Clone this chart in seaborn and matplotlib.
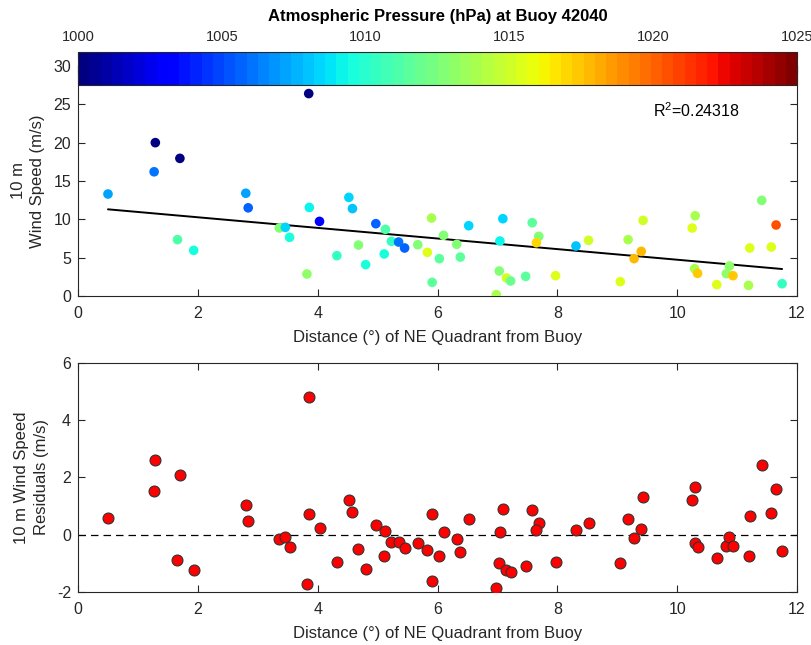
import numpy as np
import pandas as pd
import matplotlib
matplotlib.use("Agg")
import matplotlib.pyplot as plt
import seaborn as sns
from matplotlib.colors import Normalize
import matplotlib.cm as cm

# Distance (deg) of NE quadrant from buoy 42040
distance = [0.50, 1.29, 1.27, 1.70, 1.66, 1.93, 2.80, 2.84, 3.36, 3.46,
            3.53, 3.82, 3.85, 3.86, 4.03, 4.32, 4.52, 4.58, 4.68, 4.80,
            4.97, 5.13, 5.11, 5.23, 5.35, 5.45, 5.67, 5.83, 5.90, 5.91,
            6.03, 6.10, 6.32, 6.38, 6.52, 6.98, 7.03, 7.04, 7.09, 7.15,
            7.22, 7.47, 7.58, 7.69, 7.65, 7.97, 8.31, 8.52, 9.05, 9.18,
            9.28, 9.40, 9.43, 10.25, 10.30, 10.29, 10.34, 10.66, 10.82, 10.87,
            10.93, 11.19, 11.21, 11.41, 11.57, 11.65, 11.75]

# 10 m wind speed (m/s)
wind_speed = [13.3, 20.0, 16.2, 17.95, 7.35, 5.95, 13.4, 11.5, 8.87, 8.95,
              7.65, 2.87, 26.4, 11.55, 9.73, 5.26, 12.86, 11.4, 6.65, 4.09,
              9.43, 8.69, 5.48, 7.13, 7.04, 6.26, 6.69, 5.69, 10.17, 1.78,
              4.87, 7.91, 6.74, 5.08, 9.17, 0.17, 3.26, 7.17, 10.08, 2.35,
              1.96, 2.56, 9.56, 7.78, 6.95, 2.65, 6.52, 7.26, 1.87, 7.35,
              4.87, 5.82, 9.86, 8.87, 10.47, 3.56, 2.95, 1.48, 2.91, 3.91,
              2.65, 1.39, 6.26, 12.47, 6.39, 9.26, 1.6]

# Atmospheric pressure (hPa) at the buoy
pressure = [1007.2, 1000.3, 1005.9, 1000.3, 1011.0, 1009.5, 1007.2, 1005.5, 1012.5, 1008.5,
            1009.5, 1013.0, 1000.3, 1009.0, 1003.1, 1010.5, 1008.5, 1008.0, 1012.5, 1009.5,
            1005.5, 1011.0, 1009.5, 1010.5, 1006.0, 1005.5, 1012.5, 1015.5, 1014.0, 1011.5,
            1011.5, 1012.5, 1012.5, 1011.5, 1008.5, 1013.8, 1012.5, 1009.0, 1008.5, 1015.0,
            1012.0, 1011.5, 1011.5, 1012.5, 1017.0, 1015.5, 1008.0, 1015.0, 1015.5, 1013.8,
            1017.8, 1017.8, 1015.0, 1015.5, 1013.8, 1013.8, 1017.2, 1015.5, 1013.0, 1013.0,
            1017.2, 1013.8, 1015.5, 1012.5, 1015.5, 1020.5, 1010.5]

# Residuals of the 10 m wind speed fit (m/s)
residuals = [0.59, 2.61, 1.52, 2.10, -0.89, -1.23, 1.05, 0.49, -0.15, -0.09,
             -0.44, -1.72, 4.81, 0.71, 0.24, -0.95, 1.20, 0.80, -0.50, -1.20,
             0.35, 0.14, -0.75, -0.25, -0.25, -0.46, -0.30, -0.54, 0.71, -1.62,
             -0.74, 0.11, -0.16, -0.61, 0.55, -1.86, -0.98, 0.10, 0.91, -1.22,
             -1.31, -1.10, 0.88, 0.40, 0.15, -0.96, 0.15, 0.41, -1.00, 0.56,
             -0.11, 0.19, 1.32, 1.20, 1.66, -0.28, -0.44, -0.81, -0.38, -0.09,
             -0.40, -0.73, 0.67, 2.43, 0.76, 1.60, -0.57]

# Linear fit of wind speed on distance
fit_intercept = 11.65
fit_slope = -0.692
r_squared_label = "R$^2$=0.24318"
p_min, p_max = 1000, 1025

df = pd.DataFrame({"distance": distance, "wind": wind_speed,
                   "pressure": pressure, "resid": residuals})

fit_x = np.array([min(distance), max(distance)])
fit_df = pd.DataFrame({"distance": fit_x,
                       "wind": fit_intercept + fit_slope * fit_x})

sns.set_theme(style="white")
plt.rcParams["font.family"] = ["Liberation Sans", "DejaVu Sans"]
plt.rcParams["mathtext.fontset"] = "custom"
plt.rcParams["mathtext.rm"] = "Liberation Sans"
plt.rcParams["mathtext.it"] = "Liberation Sans:italic"
plt.rcParams["axes.unicode_minus"] = False

axis_gray = "#262626"
text_gray = "#262626"

cmap = plt.get_cmap("jet", 64)
norm = Normalize(vmin=p_min, vmax=p_max)

fig = plt.figure(figsize=(8.12, 6.45), dpi=100)
ax1 = fig.add_axes([0.0961, 0.5411, 0.8855, 0.3566])
ax2 = fig.add_axes([0.0961, 0.0822, 0.8855, 0.3550])
cax = fig.add_axes([0.0961, 0.8682, 0.8855, 0.0512])
cax.set_zorder(5)


def style_axes(ax):
    for sp in ax.spines.values():
        sp.set_visible(True)
        sp.set_color(axis_gray)
        sp.set_linewidth(0.8)
    ax.tick_params(direction="in", length=5, width=0.8, colors=axis_gray,
                   labelcolor=text_gray, labelsize=11.5,
                   top=True, right=True, bottom=True, left=True)
    ax.tick_params(axis="x", pad=7)
    ax.tick_params(axis="y", pad=5)


# Top panel: wind speed against distance, coloured by pressure
sns.scatterplot(data=df, x="distance", y="wind", hue="pressure",
                palette=cmap, hue_norm=norm, s=48, linewidth=0,
                legend=False, ax=ax1, zorder=3)
sns.lineplot(data=fit_df, x="distance", y="wind", color="black",
             linewidth=1.4, ax=ax1, zorder=2)
ax1.set_xlim(0, 12)
ax1.set_ylim(0, 30)
ax1.set_xticks(range(0, 13, 2))
ax1.set_yticks(range(0, 31, 5))
ax1.set_xlabel("Distance (\u00b0) of NE Quadrant from Buoy", fontsize=12,
               color=text_gray, labelpad=6.5)
ax1.set_ylabel("10 m\nWind Speed (m/s)", fontsize=12, color=text_gray,
               labelpad=6, linespacing=1.35)
ax1.text(9.6, 24.2, r_squared_label, fontsize=11.5, color="black",
         va="center", ha="left")
style_axes(ax1)

# Colour bar for pressure along the top
sm = cm.ScalarMappable(norm=norm, cmap=cmap)
cbar = fig.colorbar(sm, cax=cax, orientation="horizontal")
cbar.set_ticks([1000, 1005, 1010, 1015, 1020, 1025])
cax.xaxis.set_ticks_position("top")
cax.xaxis.set_label_position("top")
cax.tick_params(direction="in", length=4, width=0.8, colors=axis_gray,
                labelcolor=text_gray, labelsize=10.5, pad=5.5)
cbar.outline.set_edgecolor(axis_gray)
cbar.outline.set_linewidth(0.8)
cax.set_title("Atmospheric Pressure (hPa) at Buoy 42040", fontsize=12,
              fontweight="bold", color="black", pad=22)

# Bottom panel: residuals against distance
sns.scatterplot(data=df, x="distance", y="resid", color="#ff0000",
                edgecolor="#333333", linewidth=0.8, s=62, legend=False,
                ax=ax2, zorder=3)
ax2.axhline(0, color="black", linestyle=(0, (6, 4)), linewidth=0.9, zorder=2)
ax2.set_xlim(0, 12)
ax2.set_ylim(-2, 6)
ax2.set_xticks(range(0, 13, 2))
ax2.set_yticks(range(-2, 7, 2))
ax2.set_xlabel("Distance (\u00b0) of NE Quadrant from Buoy", fontsize=12,
               color=text_gray, labelpad=6.5)
ax2.set_ylabel("10 m Wind Speed\nResiduals (m/s)", fontsize=12,
               color=text_gray, labelpad=6, linespacing=1.35)
style_axes(ax2)

fig.savefig("out.png", dpi=100)
